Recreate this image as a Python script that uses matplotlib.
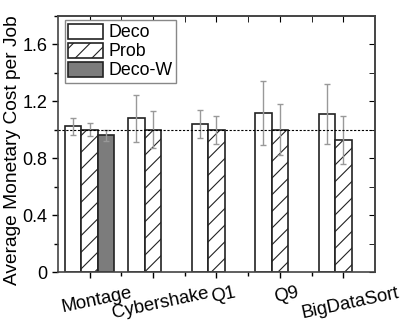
import matplotlib
matplotlib.use("Agg")
import matplotlib.pyplot as plt
import matplotlib.transforms as mtransforms
import numpy as np
from matplotlib.ticker import MultipleLocator

plt.rcParams['font.family'] = ['Liberation Sans', 'DejaVu Sans']
plt.rcParams['hatch.color'] = '#8c8c8c'
plt.rcParams['hatch.linewidth'] = 0.8

workloads = ["Montage", "Cybershake", "Q1", "Q9", "BigDataSort"]
deco = [1.025, 1.08, 1.04, 1.115, 1.11]
deco_err = [0.06, 0.165, 0.10, 0.225, 0.21]
prob = [1.0, 1.0, 1.0, 1.0, 0.93]
prob_err = [0.045, 0.13, 0.10, 0.18, 0.17]
decow = [0.96]
decow_err = [0.04]

fig = plt.figure(figsize=(4.19, 3.24), dpi=100)
ax = fig.add_axes([0.138, 0.16, 0.757, 0.791])

x = np.arange(len(workloads))
w = 0.26
ekw = dict(ecolor='#999999', elinewidth=1, capsize=2.5, capthick=1)

ax.bar(x - w, deco, w, yerr=deco_err, color='white', edgecolor='#222222',
       linewidth=1.2, label='Deco', error_kw=ekw)
ax.bar(x, prob, w, yerr=prob_err, color='white', edgecolor='#222222',
       linewidth=1.2, hatch='//', label='Prob', error_kw=ekw)
ax.bar(x[:1] + w, decow, w, yerr=decow_err, color='#7c7c7c', edgecolor='#222222',
       linewidth=1.2, label='Deco-W', error_kw=ekw)

ax.axhline(1.0, color='black', linestyle=(0, (2, 1.5)), linewidth=0.8)

ax.set_xlim(-0.5, 4.5)
ax.set_ylim(0, 1.8)
ax.yaxis.set_minor_locator(MultipleLocator(0.2))
ax.set_yticks([0, 0.4, 0.8, 1.2, 1.6])
ax.set_yticklabels(["0", "0.4", "0.8", "1.2", "1.6"])
ax.set_xticks(x)
ax.set_xticks(x[:-1] + 0.5, minor=True)

ax.tick_params(axis='both', which='both', direction='out', labelsize=13,
               top=False, right=False, width=1)
ax.tick_params(which='major', length=4)
ax.tick_params(which='minor', length=3)
ax2 = ax.secondary_xaxis('top')
ax2.set_xticks(x)
ax2.set_xticks(x[:-1] + 0.5, minor=True)
ax2.tick_params(axis='x', which='both', direction='in', length=4, labeltop=False)
ax3 = ax.secondary_yaxis('right')
ax3.yaxis.set_major_locator(MultipleLocator(0.4))
ax3.yaxis.set_minor_locator(MultipleLocator(0.2))
ax3.tick_params(axis='y', which='both', direction='in', length=4, labelright=False)

# tilted labels, nudged right like the original
ax.set_xticklabels(workloads, rotation=12, fontsize=13.3)
shift = mtransforms.ScaledTranslation(7 / 100, -2 / 100, fig.dpi_scale_trans)
for lab in ax.xaxis.get_majorticklabels():
    lab.set_transform(lab.get_transform() + shift)

for a in (ax, ax2, ax3):
    for s in a.spines.values():
        s.set_color('#444444')
        s.set_linewidth(1.2)

ax.set_ylabel("Average Monetary Cost per Job", fontsize=13.8, labelpad=2)
ax.yaxis.set_label_coords(-0.115, 0.477)

ax.legend(loc='upper left', fontsize=12.8, frameon=True, fancybox=False,
          edgecolor='#888888', handlelength=1.95, handleheight=0.92,
          borderpad=0.2, labelspacing=0.08, handletextpad=0.3,
          borderaxespad=0, bbox_to_anchor=(0.022, 0.984), framealpha=1)

fig.savefig("out.png", dpi=100)
